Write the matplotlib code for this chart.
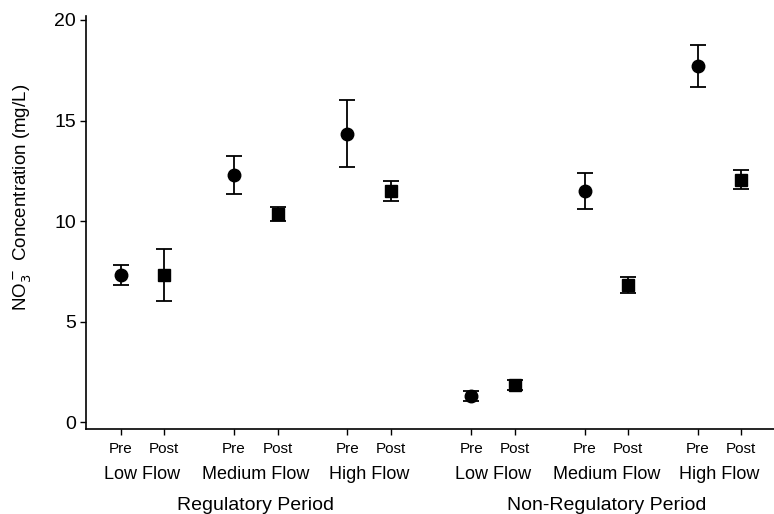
import matplotlib.pyplot as plt
import matplotlib.transforms as mtransforms

plt.rcParams['font.family'] = ['Liberation Sans', 'DejaVu Sans']

periods = ["Regulatory Period", "Non-Regulatory Period"]
flows = ["Low Flow", "Medium Flow", "High Flow"]
phases = ["Pre", "Post"]

# mean NO3- (mg/L) per period/flow, pre and post
pre_mean = [7.3, 12.3, 14.35, 1.3, 11.5, 17.7]
pre_err = [0.5, 0.93, 1.65, 0.25, 0.9, 1.05]
post_mean = [7.3, 10.35, 11.5, 1.85, 6.8, 12.05]
post_err = [1.3, 0.35, 0.48, 0.25, 0.4, 0.47]

# x position of each "Pre" point, "Post" sits one unit right
pre_x = [0, 2.6, 5.2, 8.05, 10.65, 13.25]
post_x = [p + 1 for p in pre_x]

fig = plt.figure(figsize=(7.74, 5.14), dpi=100)
ax = fig.add_axes([0.111, 0.165, 0.889, 0.804])

ax.errorbar(pre_x, pre_mean, yerr=pre_err, fmt='o', color='black',
            ms=9, capsize=6, elinewidth=1.3, capthick=1.3)
ax.errorbar(post_x, post_mean, yerr=post_err, fmt='s', color='black',
            ms=8.5, capsize=6, elinewidth=1.3, capthick=1.3)

ax.set_xlim(-0.8, 15.0)
ax.set_ylim(-0.35, 20.2)
ax.set_yticks([0, 5, 10, 15, 20])
ax.tick_params(axis='y', labelsize=14, length=4, width=1, pad=3)

ticks = sorted(pre_x + post_x)
ax.set_xticks(ticks)
ax.set_xticklabels(phases * 6, fontsize=11)
ax.tick_params(axis='x', length=4, width=1, pad=5)

for s in ['top', 'right']:
    ax.spines[s].set_visible(False)
for s in ['left', 'bottom']:
    ax.spines[s].set_linewidth(1.2)

ax.set_ylabel("NO$_3^-$ Concentration (mg/L)", fontsize=13.5)
ax.yaxis.set_label_coords(-0.075, 0.56)

trans = mtransforms.blended_transform_factory(ax.transData, fig.transFigure)
for i, px in enumerate(pre_x):
    ax.text(px + 0.5, 0.076, flows[i % 3], transform=trans,
            ha='center', va='center', fontsize=13)
for j, name in enumerate(periods):
    mid = (pre_x[3 * j] + post_x[3 * j + 2]) / 2
    ax.text(mid, 0.016, name, transform=trans,
            ha='center', va='center', fontsize=14)

fig.savefig("out.png", dpi=100)
